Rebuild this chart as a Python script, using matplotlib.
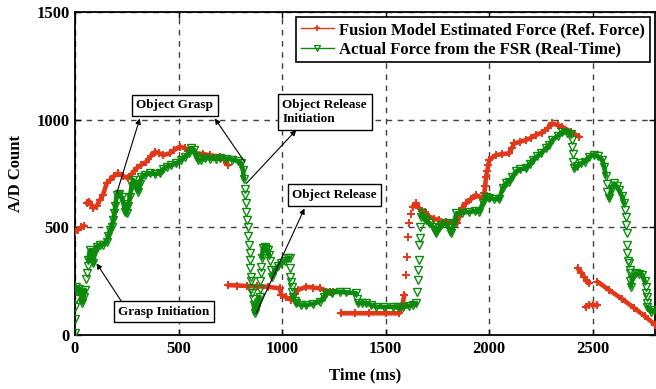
import numpy as np
import matplotlib
matplotlib.use("Agg")
import matplotlib.pyplot as plt
from matplotlib.lines import Line2D

plt.rcParams['font.family'] = ['Liberation Serif', 'DejaVu Serif']
plt.rcParams['font.weight'] = 'bold'

nan = np.nan
# ---------------- data (time in ms, A/D count) ----------------
# Fusion model estimated force: continuous traces (nan = gap)
red_trace_t = [0, 15, 30, 45, nan,
               56, 70, 88, 105, 120, 135, 153, 170, 190, 209, 230, 257, 275, 297, 320, 345, 365, 386, 405,
               426, 458, 480, 506, 530, 554, 586, 620, 651, 699, 720, 739, nan,
               739, 780, 830, 880, 930, 988, 996, 1020, 1044, 1060, 1076, 1116, 1150, 1181, 1229, 1245, nan,
               1285, 1350, 1420, 1500, 1566, 1580, 1590, nan,
               1630, 1646, 1660, 1690, 1711, 1735, 1759, 1790, 1823, 1845, 1870, 1888, 1910, 1935, 1968,
               1976, 1980, 1984, 1990, 1995, 2000, 2032, 2060, 2096, 2110, 2120, 2150, 2177, 2200, 2225, 2255,
               2281, 2305, 2330, 2353, 2393, 2434, nan,
               2426, 2445, 2458, 2470, 2482, nan,
               2465, 2480, 2500, 2522, nan,
               2522, 2580, 2640, 2700, 2750, 2800]
red_trace_v = [480, 490, 500, 508, nan,
               612, 620, 590, 600, 627, 650, 705, 720, 740, 751, 740, 728, 750, 774, 790, 805, 830, 851, 845,
               836, 844, 860, 875, 868, 859, 844, 840, 836, 828, 815, 790, nan,
               232, 230, 228, 226, 224, 217, 186, 175, 163, 190, 209, 224, 220, 217, 201, 200, nan,
               101, 101, 101, 101, 101, 140, 186, nan,
               596, 612, 590, 570, 550, 540, 534, 525, 519, 520, 590, 612, 630, 650, 635,
               660, 690, 735, 760, 790, 813, 836, 840, 844, 870, 890, 898, 906, 915, 929, 940,
               960, 983, 975, 967, 944, 921, nan,
               310, 290, 271, 250, 240, nan,
               131, 140, 139, 139, nan,
               248, 208, 168, 125, 88, 48]
# isolated samples
red_sparse_t = [1600, 1601, 1606, 1612, 1620]
red_sparse_v = [279, 364, 457, 520, 560]

# Actual force from FSR: continuous traces (nan = gap)
grn_trace_t = [5, 12, 20, 28, 35, 42, 48, nan,
               64, 72, 80, 88, 96, 104, 120, 136, 153, 160, 170, 177, 185, 190, 195, 201, 212, 225, 235,
               241, 249, 257, 265, 273, 281, 293, 305, 313, 321, 340, 361, 385, 410, 425, 442, 465, 490,
               510, 530, 550, 562, 575, 585, 594, 610, 630, 651, 680, 700, 731, 760, 785, 803, 811, 815, nan,
               863, 867, 875, 883, 891, nan,
               903, 907, 915, 923, 931, 937, nan,
               950, 964, 980, 996, 1012, 1028, 1036, nan,
               1052, 1060, 1068, 1090, 1116, 1150, 1181, 1200, 1213, 1240, 1277, 1310, 1357, nan,
               1365, 1385, 1406, 1430, 1454, 1490, 1534, 1560, 1582, 1610, 1630, 1646, nan,
               1671, 1675, 1685, 1695, 1710, 1727, 1743, 1755, 1767, 1791, 1805, 1815, 1831, 1840, 1870,
               1904, 1930, 1952, 1968, 1984, 2000, 2025, 2048, 2064, 2080, 2096, 2112, 2128, 2150, 2177,
               2195, 2209, 2230, 2249, 2273, 2290, 2305, 2330, 2353, 2375, 2393, nan,
               2410, 2425, 2442, 2460, 2482, 2506, 2525, 2546, 2555, 2562, nan,
               2578, 2590, 2602, 2615, 2626, 2640, 2651, nan,
               2683, 2690, 2707, 2725, 2739, 2750, nan,
               2763, 2779, 2795]
grn_trace_v = [225, 205, 215, 190, 150, 175, 210, nan,
               348, 395, 375, 333, 387, 410, 418, 420, 433, 460, 490, 503, 535, 565, 600, 650, 655, 643, 610,
               573, 565, 600, 643, 690, 720, 700, 666, 700, 735, 745, 751, 748, 751, 770, 782, 790, 797,
               812, 828, 845, 867, 860, 830, 813, 815, 822, 820, 818, 822, 820, 815, 808, 797, 766, 725, nan,
               140, 101, 120, 147, 178, nan,
               360, 403, 410, 400, 395, 370, nan,
               271, 302, 320, 333, 345, 356, 360, nan,
               178, 160, 147, 140, 139, 145, 155, 175, 194, 197, 201, 198, 194, nan,
               147, 150, 147, 140, 131, 130, 131, 128, 128, 135, 140, 147, nan,
               550, 565, 545, 534, 520, 503, 472, 495, 511, 519, 495, 472, 519, 565, 568,
               573, 575, 573, 612, 643, 635, 632, 630, 681, 705, 712, 735, 760, 770, 774,
               795, 813, 830, 844, 867, 885, 906, 925, 944, 940, 936, nan,
               774, 785, 797, 805, 828, 836, 830, 813, 780, 740, nan,
               635, 680, 704, 690, 674, 645, 612, nan,
               224, 260, 286, 285, 279, 250, nan,
               131, 108, 116]
grn_sparse_t = [0, 0, 2, 3, 55, 58, 62,
                819, 822, 825, 827, 831, 835, 837, 839, 843, 843, 846, 848, 850, 851, 855, 859,
                893, 895, 897, 899, 941, 947, 1036, 1038, 1042, 1046, 1050, 1360,
                1650, 1654, 1656, 1660, 1663, 1665, 1667,
                2397, 2399, 2403, 2406, 2566, 2570,
                2655, 2659, 2661, 2663, 2667, 2667, 2671, 2675, 2678, 2680, 2681,
                2755, 2757, 2760, 2763]
grn_sparse_v = [8, 75, 130, 165, 260, 290, 320,
                680, 650, 615, 573, 535, 503, 460, 418, 380, 348, 310, 271, 250, 215, 194, 165,
                215, 250, 290, 317, 345, 300, 310, 271, 245, 224, 200, 165,
                200, 255, 302, 348, 418, 450, 503,
                905, 875, 840, 805, 700, 665,
                580, 550, 510, 472, 420, 379, 345, 333, 300, 286, 250,
                224, 195, 178, 150]

# annotations: (text, box centre, arrow targets (box side), arrow sources (data))
ann_text = ['Object Grasp', 'Object Release\nInitiation', 'Object Release', 'Grasp Initiation']
ann_box = [(482, 1068), (1205, 1036), (1253, 650), (430, 108)]
ann_arrows = [[((202, 660), (313, 1006)), ((819, 804), (675, 1006))],
              [((827, 704), (1068, 952))],
              [((875, 101), (1108, 588))],
              [((225, 155), (104, 333))]]

legend_labels = ['Fusion Model Estimated Force (Ref. Force)', 'Actual Force from the FSR (Real-Time)']
xticks = [0, 500, 1000, 1500, 2000, 2500]
yticks = [0, 500, 1000, 1500]

RED = '#e2381a'
GRN = '#0c8a0c'

fig = plt.figure(figsize=(6.56, 3.89), dpi=100)
ax = fig.add_axes([0.1143, 0.1388, 0.8842, 0.8300])

MS = 5.5
# red
ax.plot(red_trace_t, red_trace_v, color=RED, lw=3.3, solid_capstyle='round', zorder=3)
ax.plot(red_trace_t, red_trace_v, ls='none', marker='+', ms=MS, mew=1.4, color=RED, zorder=3)
ax.plot(red_sparse_t, red_sparse_v, ls='none', marker='+', ms=MS, mew=1.4, color=RED, zorder=3)
# green
ax.plot(grn_trace_t, grn_trace_v, color=GRN, lw=3.3, solid_capstyle='round', zorder=4)
ax.plot(grn_trace_t, grn_trace_v, ls='none', marker='v', ms=MS, mew=1.0, mfc='none', mec=GRN, zorder=4)
ax.plot(grn_sparse_t, grn_sparse_v, ls='none', marker='v', ms=MS, mew=1.0, mfc='none', mec=GRN, zorder=4)

ax.set_xlim(0, 2800)
ax.set_ylim(0, 1500)
ax.set_xticks(xticks)
ax.set_yticks(yticks)
ax.tick_params(direction='in', top=True, right=True, labelsize=12, length=4, width=1, pad=4)
for lab in ax.get_xticklabels() + ax.get_yticklabels():
    lab.set_fontweight('bold')
for s in ax.spines.values():
    s.set_linewidth(1.3)
ax.grid(True, color='0.25', ls=(0, (4, 4)), lw=1.0)
ax.set_axisbelow(True)
ax.set_xlabel('Time (ms)', fontsize=12, fontweight='bold', labelpad=8)
ax.set_ylabel('A/D Count', fontsize=12, fontweight='bold', labelpad=9)

for txt, (bx, by), arrows in zip(ann_text, ann_box, ann_arrows):
    ax.text(bx, by, txt, ha='center', va='center', fontsize=9.5, fontweight='bold',
            multialignment='left', zorder=6,
            bbox=dict(boxstyle='square,pad=0.35', fc='white', ec='black', lw=1.0))
    for (sx, sy), (tx, ty) in arrows:
        ax.annotate('', xy=(tx, ty), xytext=(sx, sy), zorder=5,
                    arrowprops=dict(arrowstyle='-|>', color='black', lw=0.8,
                                    mutation_scale=8, shrinkA=0, shrinkB=0))

handles = [Line2D([], [], color=RED, lw=1, marker='+', ms=5, mew=1.3),
           Line2D([], [], color=GRN, lw=1, marker='v', ms=4.5, mew=0.9, mfc='none')]
leg = ax.legend(handles, legend_labels, loc='upper right', fancybox=False, framealpha=1,
                edgecolor='black', prop={'weight': 'bold', 'size': 12}, handlelength=2,
                handletextpad=0.3, borderpad=0.3, labelspacing=0.2, borderaxespad=0.3)
leg.get_frame().set_linewidth(1.2)
leg.set_zorder(7)

fig.savefig('out.png', dpi=100)
